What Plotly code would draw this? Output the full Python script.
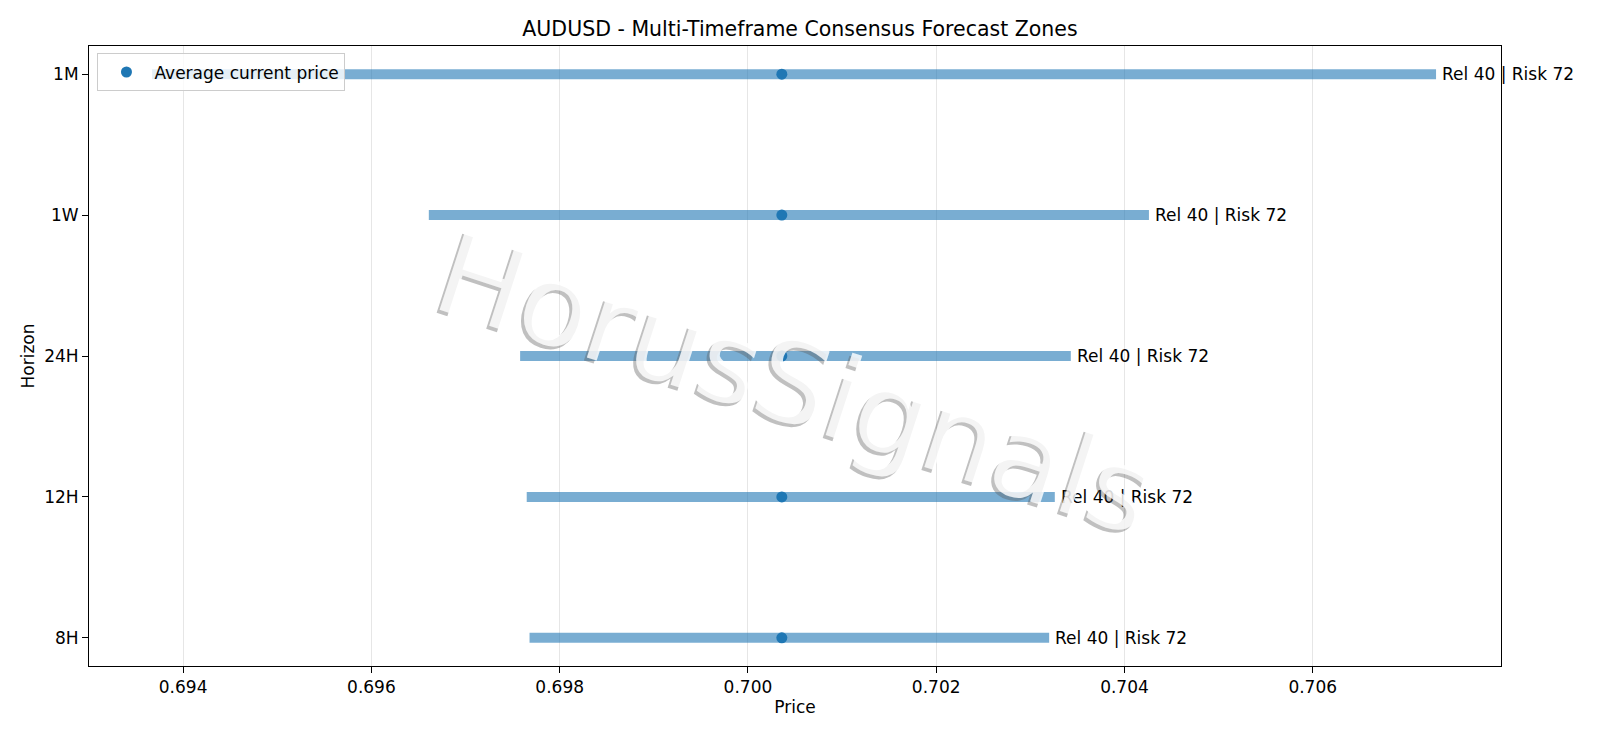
import plotly.graph_objects as go

# ---- data ----
horizons = ["8H", "12H", "24H", "1W", "1M"]
zone_low = [0.69768, 0.69765, 0.69758, 0.69661, 0.69367]
zone_high = [0.70320, 0.70326, 0.70343, 0.70426, 0.70731]
current_price = [0.70036, 0.70036, 0.70036, 0.70036, 0.70036]
reliability = [40, 40, 40, 40, 40]
risk = [72, 72, 72, 72, 72]
x_ticks = [0.694, 0.696, 0.698, 0.700, 0.702, 0.704, 0.706]

FONT = "DejaVu Sans"
BLUE = "#1f77b4"

fig = go.Figure()

# zone bars
for h, lo, hi in zip(horizons, zone_low, zone_high):
    fig.add_trace(go.Scatter(
        x=[lo, hi], y=[h, h], mode="lines",
        line=dict(color="rgba(31,119,180,0.6)", width=10),
        showlegend=False, hoverinfo="skip",
    ))

# current price markers
fig.add_trace(go.Scatter(
    x=current_price, y=horizons, mode="markers",
    marker=dict(color=BLUE, size=11),
    name="Average current price",
))

# labels
for h, hi, r, k in zip(horizons, zone_high, reliability, risk):
    fig.add_annotation(
        x=hi, y=h, xref="x", yref="y", text=f"Rel {r} | Risk {k}",
        showarrow=False, xanchor="left", yanchor="middle", xshift=4,
        font=dict(family=FONT, size=17, color="black"),
    )

# watermark (shadow + white)
wm_x, wm_y = 0.5, 0.455
wm_size = 114
wm_angle = 18
fig.add_annotation(
    x=wm_x, y=wm_y, xref="paper", yref="paper", text="HorusSignals",
    showarrow=False, textangle=wm_angle, xshift=-3, yshift=-3,
    font=dict(family=FONT, size=wm_size, color="rgba(90,90,90,0.38)"),
)
fig.add_annotation(
    x=wm_x, y=wm_y, xref="paper", yref="paper", text="HorusSignals",
    showarrow=False, textangle=wm_angle,
    font=dict(family=FONT, size=wm_size, color="rgba(255,255,255,0.82)"),
)

fig.update_layout(
    width=1600, height=738,
    margin=dict(l=89, r=99, t=46, b=72),
    paper_bgcolor="white", plot_bgcolor="white",
    font=dict(family=FONT, size=17, color="black"),
    title=dict(text="AUDUSD - Multi-Timeframe Consensus Forecast Zones",
               x=0.5, xanchor="center", y=1 - 28.5 / 738, yanchor="middle",
               font=dict(family=FONT, size=20.5, color="black")),
    legend=dict(x=0.006, y=0.988, xanchor="left", yanchor="top",
                bgcolor="rgba(255,255,255,0.8)", bordercolor="#cccccc",
                borderwidth=1, itemwidth=46, font=dict(family=FONT, size=17)),
    showlegend=True,
)

fig.update_xaxes(
    range=[0.693, 0.708], tickvals=x_ticks,
    ticktext=[f"{v:.3f}" for v in x_ticks],
    showgrid=True, gridcolor="#e6e6e6", gridwidth=1,
    showline=True, linecolor="black", linewidth=1, mirror=True,
    ticks="outside", ticklen=6, tickcolor="black",
    zeroline=False,
    title=dict(text="Price", font=dict(family=FONT, size=17), standoff=4),
)
fig.update_yaxes(
    type="category", categoryorder="array", categoryarray=horizons,
    range=[-0.2, 4.2],
    showgrid=False,
    showline=True, linecolor="black", linewidth=1, mirror=True,
    ticks="outside", ticklen=6, tickcolor="black",
    zeroline=False,
    title=dict(text="Horizon", font=dict(family=FONT, size=17), standoff=5),
)

fig.write_html("out.html")
